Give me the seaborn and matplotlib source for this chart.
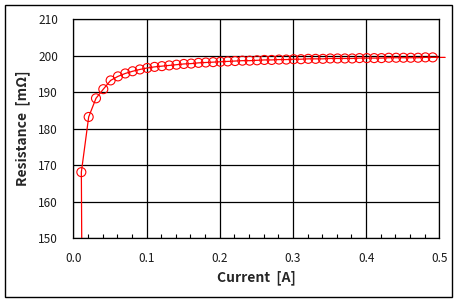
import matplotlib
matplotlib.use("Agg")
import matplotlib.pyplot as plt
from matplotlib.patches import Rectangle
from matplotlib.ticker import MultipleLocator
import seaborn as sns
import numpy as np

current = [0.011, 0.021, 0.031, 0.041, 0.051, 0.061, 0.071, 0.081, 0.091, 0.101,
           0.111, 0.121, 0.131, 0.141, 0.151, 0.161, 0.171, 0.181, 0.191, 0.201,
           0.211, 0.221, 0.231, 0.241, 0.251, 0.261, 0.271, 0.281, 0.291, 0.301,
           0.311, 0.321, 0.331, 0.341, 0.351, 0.361, 0.371, 0.381, 0.391, 0.401,
           0.411, 0.421, 0.431, 0.441, 0.451, 0.461, 0.471, 0.481, 0.491]
resistance = [168.1, 183.2, 188.3, 190.8, 193.2, 194.3, 195.1, 195.7, 196.2, 196.6,
              196.9, 197.1, 197.3, 197.5, 197.7, 197.8, 198.0, 198.1, 198.2, 198.3,
              198.4, 198.5, 198.6, 198.6, 198.7, 198.8, 198.8, 198.9, 198.9, 199.0,
              199.0, 199.1, 199.1, 199.1, 199.2, 199.2, 199.2, 199.2, 199.3, 199.3,
              199.3, 199.3, 199.4, 199.4, 199.4, 199.4, 199.4, 199.5, 199.5]
# fitted curve: starts at bottom of axis, passes through points, extends a bit past 0.5
fit_x = [0.0115] + current + [0.508]
fit_y = [150.0] + resistance + [199.5]

x_ticks = [0.0, 0.1, 0.2, 0.3, 0.4, 0.5]
x_ticklabels = ["0.0", "0.1", "0.2", "0.3", "0.4", "0.5"]
y_ticks = [150, 160, 170, 180, 190, 200, 210]

sns.set_theme(style="white")
plt.rcParams['font.family'] = ['Noto Sans CJK KR', 'DejaVu Sans']

fig = plt.figure(figsize=(4.59, 3.03), dpi=100)
fig.patch.set_facecolor("white")
ax = fig.add_axes([73.3/459, 1-238.3/303, (439.3-73.3)/459, (238.3-19)/303])

sns.lineplot(x=fit_x, y=fit_y, ax=ax, color="#FF0000", linewidth=0.9, sort=False,
             estimator=None)
ax.lines[-1].set_clip_on(False)
sns.scatterplot(x=current, y=resistance, ax=ax, marker="o", s=42,
                facecolors="none", edgecolor="#FF0000", linewidth=0.8, zorder=3)

ax.set_xlim(0, 0.5)
ax.set_ylim(150, 210)
ax.set_xticks(x_ticks)
ax.set_xticklabels(x_ticklabels)
ax.set_yticks(y_ticks)
ax.xaxis.set_minor_locator(MultipleLocator(0.02))
ax.tick_params(axis="x", which="minor", direction="in", length=3, width=0.8,
               color="black", bottom=True)
ax.tick_params(axis="both", which="major", length=0, labelsize=8.5,
               labelcolor="#1a1a1a")
ax.tick_params(axis="y", pad=11)
ax.tick_params(axis="x", pad=10)
ax.grid(True, color="black", linewidth=0.9)
ax.set_axisbelow(True)
for sp in ax.spines.values():
    sp.set_color("black")
    sp.set_linewidth(0.9)

ax.set_xlabel("Current  [A]", fontsize=10, fontweight="bold", labelpad=4)
ax.set_ylabel("Resistance  [mΩ]", fontsize=10, fontweight="bold", labelpad=6)

fig.add_artist(Rectangle((5/459, 1-297/303), (452-5)/459, (297-5)/303,
                         transform=fig.transFigure, fill=False,
                         edgecolor="black", linewidth=1.0))

fig.savefig("out.png", dpi=100, facecolor="white")
